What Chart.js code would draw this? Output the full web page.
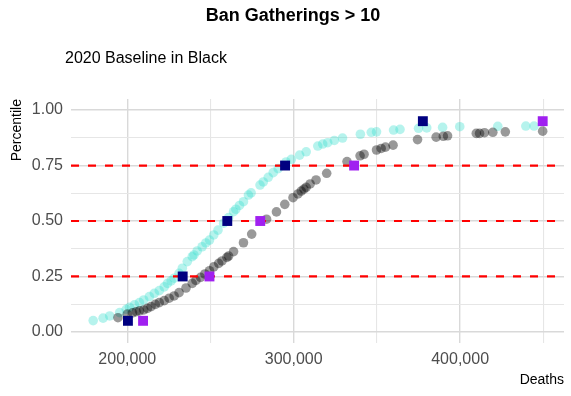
<!DOCTYPE html>
<html>
<head>
<meta charset="utf-8">
<script src="https://cdn.jsdelivr.net/npm/chart.js@4.4.1/dist/chart.umd.min.js"></script>
<style>
  html, body { margin: 0; padding: 0; background: #fff; }
  #wrap { width: 571px; height: 396px; }
</style>
</head>
<body>
<div id="wrap"><canvas id="myChart" width="571" height="396"></canvas></div>
<script>
// Escenario "Ban Gatherings > 10" (turquesa) frente a la base 2020 (negro)
const scenarioDeaths = [179524, 185476, 189464, 195417, 199405, 201369, 204345, 207321, 209881, 213274,
    216250, 219226, 222202, 224167, 226369, 228155, 231131, 233095, 236071, 239048,
    240060, 242024, 245000, 247202, 249405, 251965, 254524, 257917, 260893, 263869,
    265238, 267440, 269821, 272798, 274405, 279762, 281726, 284702, 287679, 290655,
    295417, 298572, 303571, 307500, 314464, 317440, 320417, 324405, 329345, 340060,
    346607, 349762, 360000, 363869, 375000, 379940, 389464, 399762, 422619, 439464, 444405];
const scenarioPct = [0.051, 0.062, 0.072, 0.087, 0.102, 0.111, 0.122, 0.132, 0.144, 0.159,
    0.174, 0.186, 0.203, 0.219, 0.230, 0.242, 0.264, 0.287, 0.317, 0.339,
    0.347, 0.365, 0.384, 0.401, 0.414, 0.437, 0.459, 0.490, 0.515, 0.542,
    0.553, 0.570, 0.587, 0.617, 0.627, 0.662, 0.676, 0.697, 0.718, 0.736,
    0.766, 0.778, 0.797, 0.812, 0.838, 0.847, 0.853, 0.863, 0.874, 0.891,
    0.900, 0.902, 0.910, 0.913, 0.918, 0.920, 0.922, 0.925, 0.927, 0.928, 0.928];

const baselineDeaths = [194405, 200000, 203155, 205357, 207321, 209881, 212083, 214286, 216845, 219226,
    222202, 225179, 228155, 231131, 235298, 239048, 241250, 244048, 246607, 249405,
    251965, 254940, 256905, 259881, 260893, 263869, 269821, 274762, 283690, 289643,
    294643, 299583, 302560, 304524, 306131, 307500, 309881, 313452, 319821, 332024,
    339881, 342262, 349762, 352560, 355119, 359702, 374405, 385595, 389881, 392440,
    409702, 411667, 414643, 419643, 427143, 449583];
const baselinePct = [0.064, 0.080, 0.086, 0.091, 0.095, 0.099, 0.106, 0.114, 0.124, 0.132,
    0.141, 0.152, 0.162, 0.177, 0.198, 0.219, 0.232, 0.246, 0.261, 0.276,
    0.293, 0.309, 0.320, 0.336, 0.342, 0.362, 0.402, 0.441, 0.508, 0.541,
    0.575, 0.605, 0.622, 0.635, 0.644, 0.652, 0.667, 0.685, 0.715, 0.768,
    0.794, 0.801, 0.820, 0.827, 0.833, 0.842, 0.867, 0.878, 0.882, 0.884,
    0.895, 0.895, 0.898, 0.900, 0.902, 0.905];

// Cuantiles marcados con cuadrados
const quantileLevels = [0.05, 0.25, 0.50, 0.75, 0.95];
const scenarioQuantiles = [200400, 233300, 260100, 294800, 377600];
const baselineQuantiles = [209500, 249400, 279900, 336300, 449600];

// Lineas de referencia rojas
const refLevels = [0.25, 0.50, 0.75];

// Ejes
const xMin = 166200, xMax = 462400;
const xTicks = [200000, 250000, 300000, 350000, 400000, 450000];
const yMin = -0.05, yMax = 1.05;
const yTicks = [0, 0.125, 0.25, 0.375, 0.5, 0.625, 0.75, 0.875, 1];

const toPoints = (xs, ys) => xs.map((x, i) => ({ x: x, y: ys[i] }));

const datasets = [
    {
        data: toPoints(scenarioQuantiles, quantileLevels),
        pointStyle: 'rect', pointRadius: 7, borderWidth: 0,
        backgroundColor: '#000080', order: 0
    },
    {
        data: toPoints(baselineQuantiles, quantileLevels),
        pointStyle: 'rect', pointRadius: 7, borderWidth: 0,
        backgroundColor: '#a020f0', order: 0
    }
];
refLevels.forEach(lvl => {
    datasets.push({
        type: 'line',
        data: [{ x: xMin, y: lvl }, { x: xMax, y: lvl }],
        borderColor: '#ff0000', borderWidth: 2.2, borderDash: [8, 9],
        pointRadius: 0, fill: false, order: 1
    });
});
datasets.push({
    data: toPoints(baselineDeaths, baselinePct),
    pointRadius: 4.8, borderWidth: 0,
    backgroundColor: 'rgba(0, 0, 0, 0.4)', order: 2
});
datasets.push({
    data: toPoints(scenarioDeaths, scenarioPct),
    pointRadius: 4.8, borderWidth: 0,
    backgroundColor: 'rgba(64, 224, 208, 0.38)', order: 3
});

const FONT = '"Liberation Sans", Arial, sans-serif';

const titulos = {
    id: 'titulos',
    afterDraw(chart) {
        const ctx = chart.ctx;
        ctx.save();
        ctx.fillStyle = '#000';
        ctx.textBaseline = 'middle';
        ctx.font = 'bold 18px ' + FONT;
        ctx.textAlign = 'center';
        ctx.fillText('Ban Gatherings > 10', 293, 16);
        ctx.font = '16px ' + FONT;
        ctx.textAlign = 'left';
        ctx.fillText('2020 Baseline in Black', 65, 59);
        ctx.restore();
    }
};

const gridColor = (major) => (ctx) => (ctx.tick && major(ctx.tick.value)) ? '#d9d9d9' : '#e6e6e6';
const gridWidth = (major) => (ctx) => (ctx.tick && major(ctx.tick.value)) ? 1.4 : 1.1;
const isMajorX = v => v % 100000 === 0;
const isMajorY = v => Math.abs(v * 4 - Math.round(v * 4)) < 1e-9;

new Chart(document.getElementById('myChart').getContext('2d'), {
    type: 'scatter',
    data: { datasets: datasets },
    options: {
        responsive: false,
        animation: false,
        layout: { padding: { top: 99, right: 3, left: 0, bottom: 0 } },
        plugins: { legend: { display: false }, tooltip: { enabled: false } },
        scales: {
            x: {
                type: 'linear', min: xMin, max: xMax,
                afterBuildTicks: s => { s.ticks = xTicks.map(v => ({ value: v })); },
                afterFit: s => { s.height = 53; },
                border: { display: false },
                grid: { color: gridColor(isMajorX), lineWidth: gridWidth(isMajorX), drawTicks: false },
                ticks: {
                    padding: 7, color: '#4d4d4d', maxRotation: 0, autoSkip: false,
                    font: { family: FONT, size: 16 },
                    callback: v => isMajorX(v) ? v.toLocaleString('en-US') : ''
                },
                title: {
                    display: true, text: 'Deaths', align: 'end', color: '#000',
                    font: { family: FONT, size: 14 },
                    padding: { top: 0, bottom: 7 }
                }
            },
            y: {
                type: 'linear', min: yMin, max: yMax,
                afterBuildTicks: s => { s.ticks = yTicks.map(v => ({ value: v })); },
                afterFit: s => { s.width = 71; },
                border: { display: false },
                grid: { color: gridColor(isMajorY), lineWidth: gridWidth(isMajorY), drawTicks: false },
                ticks: {
                    padding: 8, color: '#4d4d4d', autoSkip: false,
                    font: { family: FONT, size: 16 },
                    callback: v => isMajorY(v) ? v.toFixed(2) : ''
                },
                title: {
                    display: true, text: 'Percentile', align: 'end', color: '#000',
                    font: { family: FONT, size: 14 },
                    padding: { top: 9, bottom: 0 }
                }
            }
        }
    },
    plugins: [titulos]
});
</script>
</body>
</html>
